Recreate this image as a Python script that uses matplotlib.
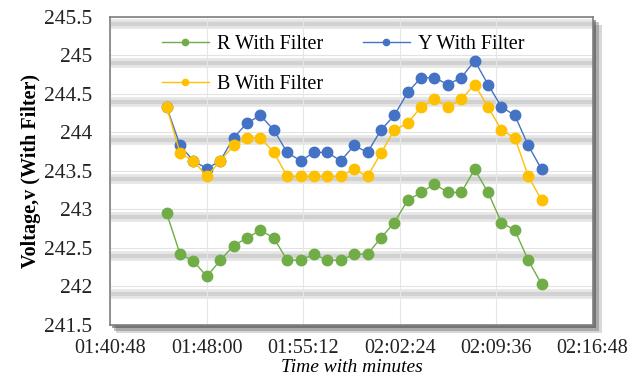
"""Phase voltages with filter over time (Excel-style line chart)."""
import matplotlib
matplotlib.use("Agg")
import matplotlib.dates as mdates
import matplotlib.pyplot as plt
import pandas as pd
from matplotlib.patches import Rectangle

plt.rcParams["font.family"] = ["Liberation Serif", "DejaVu Serif"]

TIMES = [
    "01:45", "01:46", "01:47", "01:48", "01:49", "01:50", "01:51", "01:52",
    "01:53", "01:54", "01:55", "01:56", "01:57", "01:58", "01:59", "02:00",
    "02:01", "02:02", "02:03", "02:04", "02:05", "02:06", "02:07", "02:08",
    "02:09", "02:10", "02:11", "02:12", "02:13",
]
R_FILTER = [
    242.95, 242.42, 242.33, 242.13, 242.34, 242.53, 242.63, 242.73,
    242.63, 242.34, 242.34, 242.42, 242.34, 242.34, 242.42, 242.42,
    242.63, 242.83, 243.12, 243.22, 243.33, 243.22, 243.22, 243.52,
    243.22, 242.83, 242.73, 242.34, 242.03,
]
Y_FILTER = [
    244.33, 243.83, 243.63, 243.53, 243.63, 243.93, 244.12, 244.22,
    244.03, 243.74, 243.63, 243.74, 243.74, 243.63, 243.83, 243.74,
    244.03, 244.22, 244.52, 244.71, 244.71, 244.62, 244.71, 244.93,
    244.62, 244.33, 244.22, 243.83, 243.52,
]
B_FILTER = [
    244.33, 243.73, 243.63, 243.43, 243.63, 243.83, 243.93, 243.93,
    243.74, 243.43, 243.43, 243.43, 243.43, 243.43, 243.52, 243.43,
    243.73, 244.03, 244.12, 244.33, 244.43, 244.33, 244.43, 244.62,
    244.33, 244.03, 243.93, 243.43, 243.12,
]
SERIES = [
    ("R With Filter", R_FILTER, "#70AD47"),
    ("Y With Filter", Y_FILTER, "#4472C4"),
    ("B With Filter", B_FILTER, "#FFC000"),
]
X_START, X_END = "01:40:48", "02:16:48"
Y_TICKS = [241.5, 242, 242.5, 243, 243.5, 244, 244.5, 245, 245.5]

times = pd.to_datetime(["2000-01-01 " + t for t in TIMES])
x_start = pd.Timestamp("2000-01-01 " + X_START)
x_end = pd.Timestamp("2000-01-01 " + X_END)

fig = plt.figure(figsize=(6.31, 3.75), dpi=100)
ax = fig.add_axes([0.175, 0.1333, 0.764, 0.822])

# drop shadow behind the plot area
for off, alpha in [(0.022, 0.2), (0.015, 0.3), (0.008, 0.5)]:
    fig.patches.append(Rectangle((0.175 + off * 0.4, 0.1333 - off), 0.764 + off * 0.3, 0.822,
                                 transform=fig.transFigure, facecolor="#404040",
                                 alpha=alpha, edgecolor="none", zorder=0))

ax.set_facecolor("white")
ax.set_zorder(1)

# gridlines with a soft shadow band just below
for v in Y_TICKS[1:]:
    ax.axhline(v - 0.1, color="#c8c8c8", lw=7, alpha=0.45, zorder=0.5)
    ax.axhline(v - 0.1, color="#bdbdbd", lw=3, alpha=0.5, zorder=0.5)
    ax.axhline(v, color="#e3e3e3", lw=0.8, zorder=0.6)

ticks = pd.date_range(x_start, x_end, periods=6)
for t in ticks:
    ax.axvline(t, color="#e6e6e6", lw=0.8, zorder=0.6)

for label, values, color in SERIES:
    ax.plot(times, values, color=color, lw=1.0, marker="o", markersize=7.5,
            markeredgecolor=color, label=label, zorder=3)

ax.set_xlim(x_start, x_end)
ax.set_ylim(241.5, 245.5)
ax.set_xticks(ticks)
ax.xaxis.set_major_formatter(mdates.DateFormatter("%H:%M:%S"))
ax.set_yticks(Y_TICKS)
ax.set_yticklabels([f"{v:g}" for v in Y_TICKS])
ax.tick_params(axis="both", length=0, colors="#222222")
ax.tick_params(axis="x", pad=10, labelsize=14.5)
ax.tick_params(axis="y", pad=13, labelsize=15.5)

for side in ["left", "right", "top", "bottom"]:
    ax.spines[side].set_color("#7f7f7f")
    ax.spines[side].set_linewidth(1.2)

ax.set_ylabel("Voltage,v (With Filter)", fontsize=14.5, fontweight="bold", labelpad=2)
ax.set_xlabel("Time with minutes", fontsize=14, fontstyle="italic", labelpad=1)

handles, labels = ax.get_legend_handles_labels()
order = [0, 2, 1]
ax.legend([handles[i] for i in order], [labels[i] for i in order],
          ncol=2, loc="upper left", bbox_to_anchor=(0.07, 1.0), frameon=False,
          fontsize=14.5, handlelength=2.3, columnspacing=2.0, labelspacing=1.05,
          markerscale=0.6, handletextpad=0.4)

fig.savefig("out.png", dpi=100)
